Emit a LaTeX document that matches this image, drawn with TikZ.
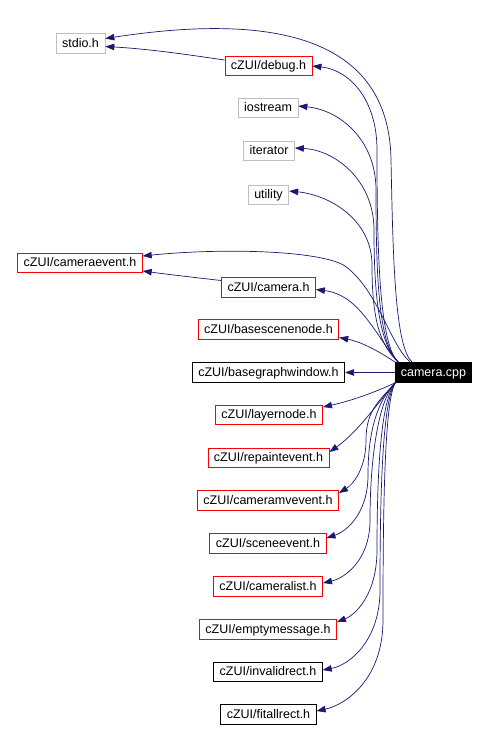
\documentclass[tikz,border=0pt]{standalone}
\usepackage{fontspec}
\setmainfont{Liberation Sans}
\usepackage{tikz}
\usepackage{xcolor}
\usetikzlibrary{arrows.meta,calc}
\definecolor{edgeblue} {HTML}{191970}
\definecolor{boxred}   {HTML}{FF0000}
\definecolor{boxgray}  {HTML}{BFBFBF}
\definecolor{boxblack} {HTML}{000000}
\tikzset{
  incbox/.style    ={draw, fill=white, line width=0.8pt,
                     inner xsep=6pt, inner ysep=0pt,
                     text height=9.6pt, text depth=2.6pt, minimum height=19.5pt,
                     font=\fontsize{12.5}{14}\selectfont},
  redbox/.style    ={incbox, draw=boxred},
  graybox/.style   ={incbox, draw=boxgray},
  blackbox/.style  ={incbox, draw=boxblack},
  rootbox/.style   ={incbox, draw=boxblack, fill=black, text=white, inner xsep=5pt},
  incarr/.style    ={-{Triangle[length=9pt,width=6.5pt]}, line width=0.7pt, color=edgeblue},
}

\begin{document}
\begin{tikzpicture}[x=1pt,y=-1pt]
        \useasboundingbox (0,0) rectangle (489,729);

        % included files, top group
        \node[graybox]  (stdio)    at (80.5,43.5)  {stdio.h};
        \node[redbox]   (debug)    at (268.5,66)   {cZUI/debug.h};
        \node[graybox]  (iostream) at (268,108)    {iostream};
        \node[graybox]  (iterator) at (269,151)    {iterator};
        \node[graybox]  (utility)  at (268.5,195)  {utility};
        \node[redbox]   (camevent) at (80,263)     {cZUI/cameraevent.h};
        \node[redbox]   (camera)   at (268.5,287.5){cZUI/camera.h};
        \node[redbox]   (bsn)      at (268.5,329.5){cZUI/basescenenode.h};
        \node[blackbox] (bgw)      at (268.5,372.5){cZUI/basegraphwindow.h};

        % source file
        \node[rootbox]  (cpp)      at (433.5,372.5){camera.cpp};

        % included files, bottom group
        \node[redbox]   (layer)    at (269,415)    {cZUI/layernode.h};
        \node[redbox]   (repaint)  at (268.5,458)  {cZUI/repaintevent.h};
        \node[redbox]   (cammv)    at (268,500.5)  {cZUI/cameramvevent.h};
        \node[redbox]   (scene)    at (268,543.5)  {cZUI/sceneevent.h};
        \node[redbox]   (camlist)  at (268,586.5)  {cZUI/cameralist.h};
        \node[redbox]   (empty)    at (268,629.5)  {cZUI/emptymessage.h};
        \node[blackbox] (invalid)  at (268,672)    {cZUI/invalidrect.h};
        \node[blackbox] (fitall)   at (268.5,714.5){cZUI/fitallrect.h};

        % edges upwards
        \draw[incarr] ($(cpp.north west)+(17,0)$) .. controls (395,348) and (393,260) .. (391,160)
          .. controls (389,20) and (240,18) .. ($(stdio.east)+(0,-5)$);
        \draw[incarr] ($(cpp.north west)+(3,0)$) .. controls (380,345) and (377,260) .. (377,150)
          .. controls (377,100) and (350,70) .. (debug.east);
        \draw[incarr] ($(cpp.north west)+(3,0)$) .. controls (380,345) and (376,290) .. (376,190)
          .. controls (376,140) and (340,110) .. ($(iostream.east)+(0,-2)$);
        \draw[incarr] ($(cpp.north west)+(3,0)$) .. controls (380,345) and (374,300) .. (374,230)
          .. controls (374,180) and (335,150) .. ($(iterator.east)+(0,-3)$);
        \draw[incarr] ($(cpp.north west)+(3,0)$) .. controls (380,345) and (372,320) .. (372,265)
          .. controls (372,220) and (330,195) .. ($(utility.east)+(0,-4)$);
        \draw[incarr] ($(cpp.north west)+(15,0)$) .. controls (390,345) and (378,290) .. (345,266)
          .. controls (320,250) and (220,248) .. ($(camevent.east)+(0,-7)$);
        \draw[incarr] ($(cpp.north west)+(3,0)$) .. controls (375,335) and (360,295) .. ($(camera.east)+(0,2)$);
        \draw[incarr] (cpp.north west) .. controls (380,352) and (362,342) .. ($(bsn.east)+(0,8)$);

        % straight edge
        \draw[incarr] (cpp.west) -- (bgw.east);

        % edges downwards
        \draw[incarr] (cpp.south west) .. controls (380,390) and (355,400) .. ($(layer.east)+(0,-8)$);
        \draw[incarr] (cpp.south west) .. controls (380,400) and (358,432) .. ($(repaint.east)+(0,-6)$);
        \draw[incarr] (cpp.south west) .. controls (380,400) and (366,410) .. (366,440)
          .. controls (366,470) and (352,485) .. ($(cammv.east)+(0,-7.5)$);
        \draw[incarr] (cpp.south west) .. controls (378,400) and (368,430) .. (368,475)
          .. controls (368,515) and (345,532) .. ($(scene.east)+(0,-5.5)$);
        \draw[incarr] (cpp.south west) .. controls (378,400) and (370,460) .. (370,520)
          .. controls (370,560) and (345,578) .. ($(camlist.east)+(0,-3.5)$);
        \draw[incarr] (cpp.south west) .. controls (380,400) and (377,480) .. (377,550)
          .. controls (377,595) and (355,615) .. ($(empty.east)+(0,-7.5)$);
        \draw[incarr] (cpp.south west) .. controls (382,400) and (380,500) .. (380,590)
          .. controls (380,640) and (350,665) .. ($(invalid.east)+(0,-2)$);
        \draw[incarr] (cpp.south west) .. controls (384,400) and (383,520) .. (383,620)
          .. controls (383,680) and (345,705) .. ($(fitall.east)+(0,-3.5)$);

        % edges between headers
        \draw[incarr] ($(debug.west)+(0,-6)$) .. controls (190,55) and (150,49) .. ($(stdio.east)+(0,3)$);
        \draw[incarr] ($(camera.west)+(0,-7)$) .. controls (190,277) and (165,274) .. ($(camevent.east)+(0,8)$);
      \end{tikzpicture}
\end{document}
